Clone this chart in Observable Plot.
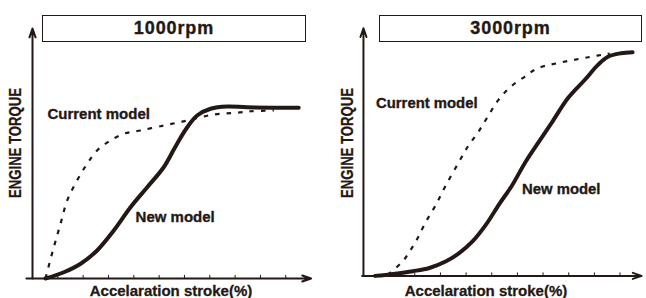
<!DOCTYPE html>
<html>
<head>
<meta charset="utf-8">
<script src="https://cdn.jsdelivr.net/npm/d3@7"></script>
<script src="https://cdn.jsdelivr.net/npm/@observablehq/plot@0.6"></script>
<style>
  html, body { margin: 0; padding: 0; background: #fff; }
  #wrap { position: relative; width: 646px; height: 298px; overflow: hidden;
          font-family: "Liberation Sans", Arial, Helvetica, sans-serif; color: #231815; }
  .panel { position: absolute; top: 0; }
  .title { position: absolute; top: 15px; height: 25px; border: 1px solid #231815;
           font-weight: bold; font-size: 18px; line-height: 25px; text-align: center; letter-spacing: 0.9px;
           -webkit-text-stroke: 0.35px #231815; }
  .xlab { position: absolute; top: 283px; width: 240px; text-align: center;
          font-weight: bold; font-size: 15px; line-height: 15px; white-space: nowrap;
          -webkit-text-stroke: 0.3px #231815; }
  .ylab { position: absolute; width: 200px; text-align: center; font-weight: bold;
          font-size: 16px; line-height: 16px; white-space: nowrap;
          -webkit-text-stroke: 0.3px #231815;
          transform: rotate(-90deg) scaleX(0.82); }
</style>
</head>
<body>
<div id="wrap"></div>
<script>
// ---- Data (x = acceleration stroke %, y = engine torque, arbitrary units 0-100) ----
const panelTitles = ["1000rpm", "3000rpm"];
const xAxisLabel = "Accelaration stroke(%)";
const yAxisLabel = "ENGINE TORQUE";
const seriesNames = ["Current model", "New model"];
const tickValues = [10, 20, 30, 40, 50, 60, 70, 80, 90, 100];

// 1000 rpm
const newModel1000 = [
  [5.1, 0], [12.4, 2.5], [19.0, 5.9], [25.5, 11.2], [32.1, 19.2], [38.7, 28.5],
  [45.3, 36.5], [51.8, 44.5], [55.8, 51.6], [58.4, 56.2], [61.1, 60.5], [65.0, 65.2],
  [70.3, 67.9], [76.9, 68.8], [84.8, 68.5], [105.1, 68.3]
];
const currentModel1000 = [
  [5.1, 0], [8.4, 12.5], [11.1, 22.0], [13.7, 31.2], [17.6, 39.2], [21.6, 45.9],
  [25.5, 51.2], [30.8, 55.2], [36.0, 57.9], [42.6, 59.2], [51.8, 61.2], [57.1, 62.3],
  [61.1, 63.2], [66.3, 64.5], [71.6, 65.6], [80.8, 66.3], [86.1, 66.9], [95.3, 67.2]
];
// 3000 rpm
const newModel3000 = [
  [4.5, 0], [11.6, 0.8], [19.3, 1.9], [25.7, 3.2], [32.2, 5.9], [37.3, 9.2],
  [42.5, 13.9], [47.6, 20.5], [52.8, 28.8], [57.9, 36.5], [63.1, 45.9], [68.2, 53.9],
  [73.4, 61.9], [79.8, 71.9], [86.3, 79.2], [91.4, 85.2], [95.3, 88.5], [100.4, 89.9], [104.9, 90.3]
];
const currentModel3000 = [
  [9.5, 0.4], [15.3, 5.9], [18.4, 10.5], [21.1, 15.2], [24.2, 21.6], [28.1, 28.5],
  [32.0, 36.4], [37.0, 45.6], [40.8, 52.4], [44.7, 58.0], [48.5, 64.4], [52.4, 70.8],
  [57.4, 76.4], [62.8, 80.4], [67.8, 83.8], [75.6, 85.9], [88.3, 88.4], [96.0, 89.8]
];
// annotation anchors (data space): [x, y] for "Current model", "New model"
const labelAnchors1000 = [[5.9, 63.9], [40.7, 22.8]];
const labelAnchors3000 = [[4.9, 67.6], [61.8, 32.9]];
// axis extents (data space)
const xAxisExtent1000 = [-2.4, 110];
const xAxisExtent3000 = [-0.5, 108.4];
const yAxisExtent = [0, 100];

// ---- Drawing ----
const ink = "#231815";
const wrap = document.getElementById("wrap");

function panel(cfg) {
  const axes = [
    {x1: cfg.xExt[0], y1: 0, x2: cfg.xExt[1], y2: 0},
    {x1: 0, y1: yAxisExtent[0], x2: 0, y2: yAxisExtent[1]}
  ];
  const labels = seriesNames.map((t, i) => ({text: t, x: cfg.anchors[i][0], y: cfg.anchors[i][1]}));
  const svg = Plot.plot({
    width: 323,
    height: 298,
    marginLeft: cfg.marginLeft,
    marginRight: cfg.marginRight,
    marginTop: 28,
    marginBottom: 20,
    x: {domain: [0, 110], axis: null},
    y: {domain: [0, 100], axis: null},
    style: {background: "transparent", overflow: "visible"},
    marks: [
      Plot.ruleX(tickValues, {x: d => d, y1: 0, y2: 0, insetTop: -3, stroke: ink, strokeWidth: 1}),
      Plot.arrow(axes, {x1: "x1", y1: "y1", x2: "x2", y2: "y2", stroke: ink, strokeWidth: 2,
                        headLength: 7, headAngle: 38}),
      Plot.line(cfg.current, {x: d => d[0], y: d => d[1], curve: "catmull-rom", stroke: ink,
                              strokeWidth: 2.2, strokeDasharray: "4.5,7", strokeLinecap: "butt"}),
      Plot.line(cfg.newer, {x: d => d[0], y: d => d[1], curve: "catmull-rom", stroke: ink,
                            strokeWidth: 4, strokeLinecap: "round"}),
      Plot.text(labels, {x: "x", y: "y", text: "text", textAnchor: "start", lineAnchor: "bottom",
                         fill: ink, stroke: ink, strokeWidth: 0.35, fontSize: 15, fontWeight: "bold",
                         fontFamily: "Liberation Sans, Arial, sans-serif"})
    ]
  });
  const holder = document.createElement("div");
  holder.className = "panel";
  holder.style.left = cfg.left + "px";
  holder.appendChild(svg);
  wrap.appendChild(holder);

  const t = document.createElement("div");
  t.className = "title";
  t.style.left = cfg.titleLeft + "px";
  t.style.width = cfg.titleWidth + "px";
  t.textContent = cfg.title;
  wrap.appendChild(t);

  const xl = document.createElement("div");
  xl.className = "xlab";
  xl.style.left = (cfg.xLabCenter - 120) + "px";
  xl.textContent = xAxisLabel;
  wrap.appendChild(xl);

  const yl = document.createElement("div");
  yl.className = "ylab";
  yl.style.left = (cfg.yLabCenter - 100) + "px";
  yl.style.top = (143 - 8) + "px";
  yl.textContent = yAxisLabel;
  wrap.appendChild(yl);
}

panel({left: 0, marginLeft: 32, marginRight: 12.4, xExt: xAxisExtent1000,
       current: currentModel1000, newer: newModel1000, anchors: labelAnchors1000,
       title: panelTitles[0], titleLeft: 42, titleWidth: 262, xLabCenter: 171, yLabCenter: 16});
panel({left: 326, marginLeft: 37.3, marginRight: 0.8, xExt: xAxisExtent3000,
       current: currentModel3000, newer: newModel3000, anchors: labelAnchors3000,
       title: panelTitles[1], titleLeft: 379, titleWidth: 261, xLabCenter: 486, yLabCenter: 348});
</script>
</body>
</html>
